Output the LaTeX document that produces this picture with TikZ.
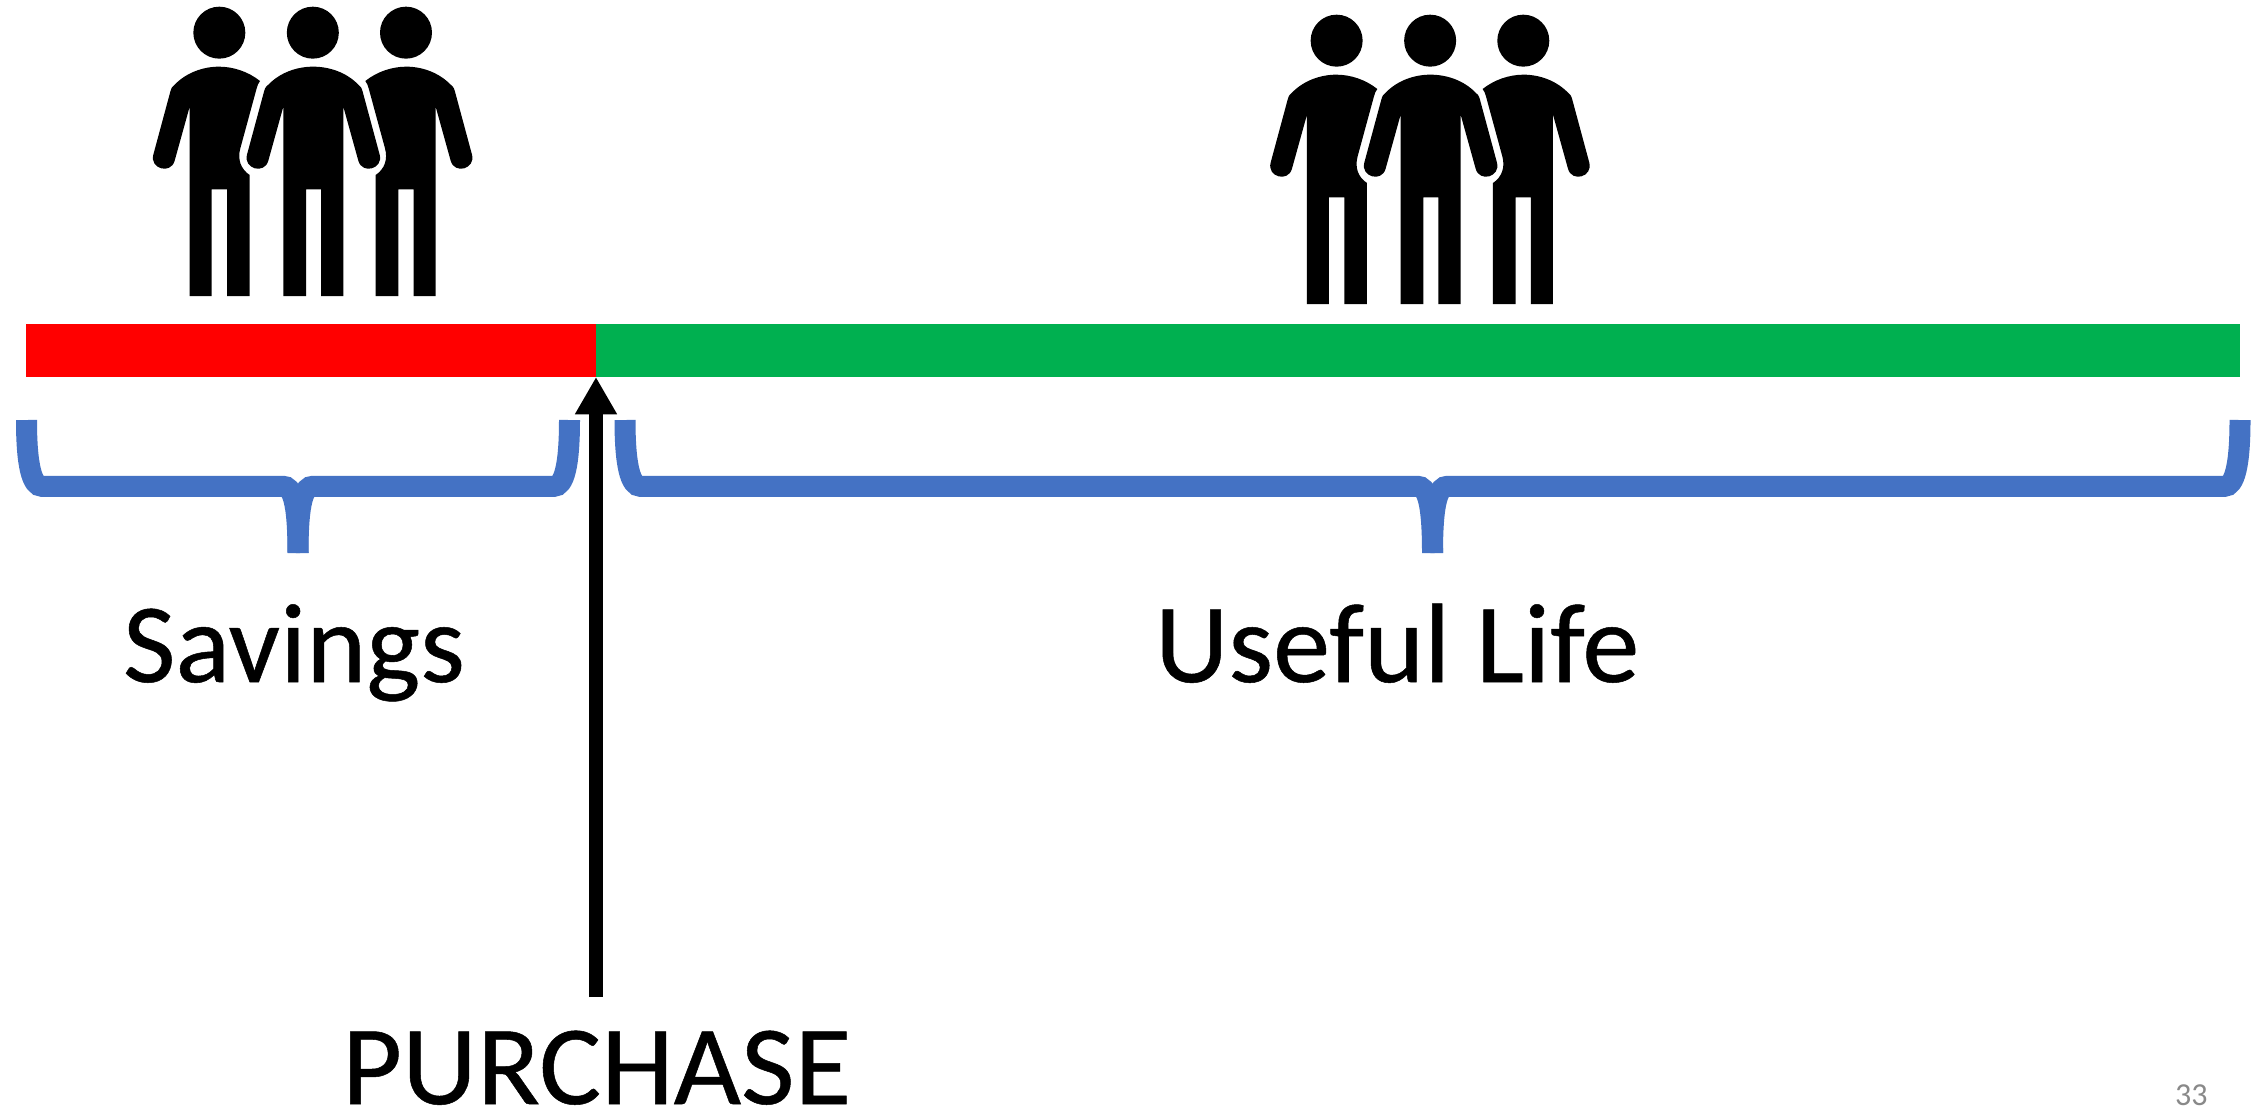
\documentclass[tikz,border=0pt]{standalone}
\usepackage{fontspec}
\setmainfont{Carlito}
\newfontfamily\labelfont{Carlito}[FakeBold=0.45,FakeStretch=1.012]
\newfontfamily\capsfont{Carlito}[FakeBold=0.45,FakeStretch=1.03]
\usetikzlibrary{arrows.meta}
\definecolor{bracecol}{HTML}{4472C4}
\definecolor{goodgreen}{HTML}{00B050}
\definecolor{pagegray}{HTML}{898989}
\tikzset{
  label/.style={inner sep=0pt,outer sep=0pt,anchor=base west,font=\labelfont\fontsize{113}{120}\selectfont,text=black},
  capslabel/.style={label,font=\capsfont\fontsize{113}{120}\selectfont},
  bracestroke/.style={draw=bracecol,line width=21pt,line cap=butt},
  arrowline/.style={draw=black,line width=14pt,-{Triangle[length=37.3pt,width=39.5pt]}}
}
% one side figure, partly hidden by the middle one
\newcommand{\sidefigure}{%
  \fill (268,98) circle (78);
  \fill (179,888) -- (179,320) -- (134,482)
    .. controls (122.5,524.5) and (58.5,506.5) .. (70,464)
    -- (121,275) .. controls (124,262) and (129,258) .. (134,254)
    .. controls (169,218) and (219,200) .. (267,200)
    .. controls (310,200) and (355,215) .. (390,243)
    .. controls (385,250) and (382,256) .. (380,265)
    -- (331,445) .. controls (322,478) and (332,507) .. (359,525)
    -- (359,888) -- (291,888) -- (291,568) -- (245,568) -- (245,888) -- cycle;
}
\newcommand{\peoplegroup}{%
  \sidefigure
  \begin{scope}[shift={(1096,0)},xscale=-1]\sidefigure\end{scope}
  \fill (548.5,98) circle (78);
  \fill (460,888) -- (460,320) -- (415,482)
    .. controls (403.5,524.5) and (339.5,506.5) .. (351,464)
    -- (402,275) .. controls (405,262) and (410,258) .. (415,254)
    .. controls (450,218) and (500,200) .. (549,200)
    .. controls (600,200) and (650,218) .. (685,254)
    .. controls (690,258) and (695,262) .. (698,275)
    -- (749,464)
    .. controls (760.5,506.5) and (696.5,524.5) .. (685,482)
    -- (640,320) -- (640,888) -- (573,888) -- (573,568) -- (528,568) -- (528,888) -- cycle;
}
\begin{document}
\begin{tikzpicture}[x=1pt,y=-1pt]
\useasboundingbox (0,0) rectangle (2265,1111);
\fill[white] (0,0) rectangle (2265,1111);
% people
\begin{scope}[shift={(130,0)},scale=1/3]\peoplegroup\end{scope}
\begin{scope}[shift={(1247.3,8)},scale=1/3]\peoplegroup\end{scope}
% timeline
\fill[red] (26,324) rectangle (595.6,377.3);
\fill[goodgreen] (595.6,324) rectangle (2240,377.3);
% braces
\draw[bracestroke] (26.5,420) .. controls (26.5,466) and (32,486.3) .. (42,486.3)
  -- (283,486.3) .. controls (292,486.3) and (298,500) .. (298,553);
\draw[bracestroke] (569.5,420) .. controls (569.5,466) and (564,486.3) .. (554,486.3)
  -- (313,486.3) .. controls (304,486.3) and (298,500) .. (298,553);
\draw[bracestroke] (625,420) .. controls (625,466) and (630.5,486.3) .. (640.5,486.3)
  -- (1417.5,486.3) .. controls (1426.5,486.3) and (1432.5,500) .. (1432.5,553);
\draw[bracestroke] (2240,420) .. controls (2240,466) and (2234.5,486.3) .. (2224.5,486.3)
  -- (1447.5,486.3) .. controls (1438.5,486.3) and (1432.5,500) .. (1432.5,553);
% purchase arrow
\coordinate (arrowstart) at (596,997);
\coordinate (arrowtip) at (596,377);
\draw[arrowline] (arrowstart) -- (arrowtip);
% labels
\node[label] (savings) at (123,682) {Savings};
\node[label] (usefullife) at (1155,682) {Useful Life};
\node[capslabel] (purchase) at (342,1104) {PURCHASE};
\node[inner sep=0pt,anchor=base west,font=\fontsize{32}{34}\selectfont,text=pagegray] (pagenum) at (2175,1105) {33};
\end{tikzpicture}
\end{document}
